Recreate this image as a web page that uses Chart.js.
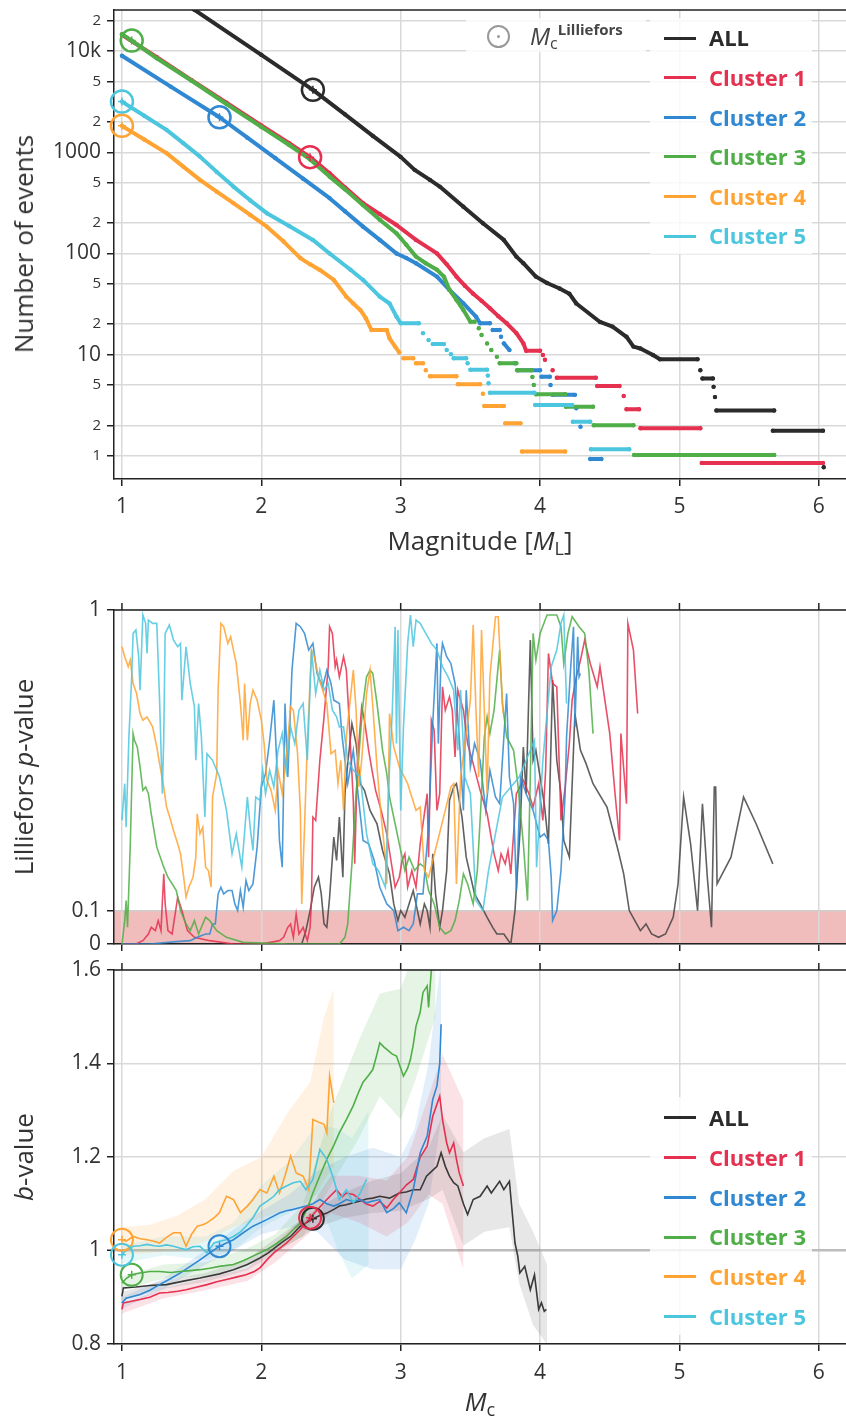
<!DOCTYPE html>
<html>
<head>
<meta charset="utf-8">
<script src="https://cdn.jsdelivr.net/npm/chart.js@4.4.1/dist/chart.umd.min.js"></script>
<style>
  html, body { margin: 0; padding: 0; background: #fff; }
  #page { position: relative; width: 846px; height: 1421px; overflow: hidden;
          font-family: 'Open Sans', 'Noto Sans', sans-serif; color: #333; }
  canvas { position: absolute; left: 0; }
  .ttl { position: absolute; transform: translate(-50%, -50%); font-size: 26px; line-height: 1; white-space: nowrap; }
  .ttl.rot { transform: translate(-50%, -50%) rotate(-90deg); }
  .ttl sub { font-size: 0.7em; position: relative; top: 0.3em; vertical-align: baseline; line-height: 0; }
  .box { position: absolute; background: rgba(255, 255, 255, 0.8); }
  .sw { position: absolute; width: 32px; height: 3px; }
  .lab { position: absolute; font-size: 22px; font-weight: 700; line-height: 28px; white-space: nowrap; }
</style>
</head>
<body>
<div id="page">
  <canvas id="fmd" width="846" height="560" style="top:0"></canvas>
  <canvas id="pval" width="846" height="430" style="top:560px"></canvas>
  <canvas id="bval" width="846" height="466" style="top:955px"></canvas>

  <div class="ttl rot" style="left:23px;top:244px">Number of events</div>
  <div class="ttl" style="left:480px;top:540px">Magnitude [<i>M</i><sub>L</sub>]</div>
  <div class="ttl rot" style="left:23px;top:777px">Lilliefors <i>p</i>-value</div>
  <div class="ttl rot" style="left:23px;top:1157px"><i>b</i>-value</div>
  <div class="ttl" style="left:480px;top:1401px"><i>M</i><sub>c</sub></div>

  <div class="box" style="left:466px;top:18px;width:180px;height:34px"></div>
  <div class="box" style="left:650px;top:18px;width:162px;height:236px"></div>
  <div class="box" style="left:650px;top:1097px;width:162px;height:238px"></div>

  <div style="position:absolute;left:487px;top:24.5px;width:23px;height:23px;box-sizing:border-box;border:2.5px solid #999;border-radius:50%"></div>
  <div style="position:absolute;left:497px;top:34.5px;width:3px;height:3px;background:#999;border-radius:50%"></div>
  <div style="position:absolute;left:530px;top:23.5px;font-size:24px;line-height:24px;white-space:nowrap;color:#444">
    <i>M</i><span style="font-size:16px;position:relative;top:4px">c</span><span style="font-size:15px;font-weight:700;position:relative;top:-10px">Lilliefors</span>
  </div>
  <div id="legends"></div>
</div>

<script>
// ---------------- data ----------------
const seriesNames = ['ALL', 'Cluster 1', 'Cluster 2', 'Cluster 3', 'Cluster 4', 'Cluster 5'];
const xTicks = [1, 2, 3, 4, 5, 6];

const countTicks = [1, 2, 5, 10, 20, 50, 100, 200, 500, 1000, 2000, 5000, 10000, 20000];
const countTickLabels = ['1', '2', '5', '10', '2', '5', '100', '2', '5', '1000', '2', '5', '10k', '2'];
const pTicks = [0, 0.1, 1];
const pTickLabels = ['0', '0.1', '1'];
const pThreshold = 0.1;
const bTicks = [0.8, 1, 1.2, 1.4, 1.6];
const bTickLabels = ['0.8', '1', '1.2', '1.4', '1.6'];

// Mc from Lilliefors test, per series
const mcValues = [2.37, 2.35, 1.70, 1.07, 1.00, 1.00];
const mcCounts = [4140, 895, 2220, 12700, 1825, 3170];
const mcBValues = [1.068, 1.070, 1.009, 0.948, 1.023, 0.991];

// cumulative frequency-magnitude, [magnitude, number]; null breaks the line
const fmdAll = [[1.0,78000],[1.52,25600],[2.0,9200],[2.37,4140],[2.6,2370],[2.8,1450],[3.0,900],[3.1,670],[3.21,533],[3.28,458],[3.45,290],[3.59,199],[3.74,136],[3.83,93],[3.88,80],[3.97,59],[4.05,51],[4.14,45],[4.21,40],[4.26,32],[4.43,21],[4.52,18.9],[4.62,15],[4.67,12],[4.72,11.5],[4.81,9.9],[4.86,9.0],[5.13,9.0],null,[5.15,7.0],null,[5.165,5.8],[5.24,5.8],null,[5.245,4.8],null,[5.255,3.8],null,[5.265,2.8],[5.68,2.8],null,[5.67,1.77],[6.03,1.77],null,[6.035,0.77]];
const fmdC1 = [[1.0,14500],[1.25,8700],[1.5,5170],[1.75,3100],[2.0,1840],[2.2,1230],[2.35,895],[2.49,621],[2.6,450],[2.73,314],[2.85,245],[2.97,191],[3.11,136],[3.26,100],[3.33,78],[3.40,59],[3.46,48],[3.52,40],[3.58,34],[3.64,28.7],[3.70,24],[3.76,20.4],[3.83,16.3],[3.88,12.9],[3.90,10.9],[4.0,10.9],null,[4.02,9.9],null,[4.035,8.9],null,[4.09,7.0],null,[4.12,5.9],[4.40,5.9],null,[4.41,4.9],[4.57,4.9],null,[4.60,3.9],null,[4.62,2.88],[4.71,2.88],null,[4.72,1.87],[5.15,1.87],null,[5.16,0.85],[6.03,0.85]];
const fmdC2 = [[1.0,8990],[1.35,4460],[1.70,2220],[1.9,1394],[2.1,877],[2.3,548],[2.49,352],[2.6,261],[2.73,184],[2.85,136],[2.97,100],[3.04,90],[3.11,80],[3.26,59],[3.35,43.6],[3.45,32],[3.54,23.7],[3.57,20.4],[3.64,20.4],null,[3.66,17.5],[3.71,17.5],null,[3.72,15],null,[3.74,12.9],[3.78,11.1],null,[3.82,8.2],null,[3.84,7.0],[4.0,7.0],null,[4.01,6.05],[4.07,6.05],null,[4.075,5.0],null,[4.09,4.0],[4.25,4.0],null,[4.26,2.94],null,[4.29,1.94],null,[4.36,0.93],[4.44,0.93]];
const fmdC3 = [[1.0,14700],[1.07,12700],[1.25,8500],[1.5,5100],[1.75,3000],[2.0,1780],[2.2,1180],[2.35,850],[2.49,575],[2.6,430],[2.73,300],[2.85,215],[2.97,158],[3.04,122],[3.11,93],[3.18,80],[3.26,69],[3.31,59],[3.35,43.6],[3.40,34.7],[3.45,27.6],[3.50,21.1],[3.53,21.1],null,[3.56,18.2],null,[3.58,15.6],null,[3.62,12.9],null,[3.65,11.1],null,[3.69,9.5],null,[3.71,8.2],[3.83,8.2],null,[3.835,7.0],[3.94,7.0],null,[3.945,6.0],null,[3.955,5.0],null,[3.97,4.05],[4.18,4.05],null,[4.185,3.05],[4.38,3.05],null,[4.385,2.0],[4.67,2.0],null,[4.675,1.02],[5.68,1.02]];
const fmdC4 = [[1.0,1825],[1.16,1336],[1.32,980],[1.44,722],[1.56,533],[1.68,408],[1.80,314],[1.92,240],[2.04,184],[2.16,131],[2.28,90],[2.35,78],[2.42,68.7],[2.52,54.7],[2.61,37.4],[2.66,32],[2.71,27.6],[2.75,22.9],[2.79,17.5],[2.90,17.5],[2.92,14.5],[2.96,12],[2.99,10.5],null,[3.02,9.2],[3.09,9.2],null,[3.11,8.2],[3.16,8.2],null,[3.18,7.0],null,[3.21,6.1],[3.40,6.1],null,[3.41,5.1],[3.57,5.1],null,[3.59,4.1],null,[3.60,3.1],[3.74,3.1],null,[3.75,2.09],[3.86,2.09],null,[3.87,1.1],[4.18,1.1]];
const fmdC5 = [[1.0,3170],[1.16,2300],[1.32,1667],[1.44,1230],[1.56,906],[1.68,640],[1.80,458],[1.92,335],[2.04,250],[2.2,187],[2.37,136],[2.49,100],[2.64,69],[2.73,54.7],[2.85,37.4],[2.92,32],[2.97,23.7],[3.0,20.4],[3.13,20.4],null,[3.16,16.3],null,[3.20,13.9],null,[3.23,12.7],[3.31,12.7],null,[3.33,11.1],null,[3.36,10.1],null,[3.38,9.2],[3.47,9.2],null,[3.48,8.2],null,[3.50,7.1],[3.62,7.1],null,[3.625,6.2],null,[3.63,5.2],null,[3.64,4.2],[3.96,4.2],null,[3.965,3.17],[4.23,3.17],null,[4.235,2.17],[4.36,2.17],null,[4.365,1.16],[4.64,1.16]];

// Lilliefors p-value vs cut-off magnitude, [Mc, p]
const pvAll = [[2.29,0],[2.32,0.04],[2.35,0.10],[2.38,0.17],[2.41,0.20],[2.43,0.15],[2.45,0.06],[2.47,0.05],[2.49,0.14],[2.52,0.32],[2.54,0.25],[2.56,0.38],[2.585,0.20],[2.60,0.45],[2.62,0.54],[2.65,0.66],[2.68,0.60],[2.71,0.48],[2.74,0.46],[2.78,0.40],[2.83,0.36],[2.87,0.28],[2.92,0.21],[2.95,0.12],[2.98,0.07],[3.00,0.10],[3.03,0.08],[3.06,0.12],[3.09,0.16],[3.12,0.10],[3.14,0.06],[3.17,0.12],[3.19,0.10],[3.21,0.05],[3.23,0.27],[3.25,0.15],[3.28,0.05],[3.30,0.10],[3.33,0.22],[3.35,0.43],[3.38,0.47],[3.40,0.48],[3.44,0.38],[3.47,0.26],[3.53,0.15],[3.57,0.12],[3.62,0.08],[3.66,0.05],[3.69,0.03],[3.74,0.03],[3.79,0.0],[3.82,0.10],[3.855,0.33],[3.88,0.59],[3.90,0.45],[3.93,0.91],[3.95,0.55],[3.97,0.58],[4.00,0.50],[4.03,0.42],[4.06,0.30],[4.09,0.79],[4.12,0.55],[4.15,0.45],[4.17,0.31],[4.21,0.26],[4.25,0.69],[4.29,0.58],[4.33,0.54],[4.38,0.48],[4.48,0.41],[4.56,0.28],[4.60,0.21],[4.64,0.10],[4.68,0.07],[4.72,0.04],[4.76,0.06],[4.80,0.03],[4.85,0.02],[4.90,0.03],[4.955,0.08],[4.99,0.18],[5.03,0.44],[5.08,0.30],[5.13,0.10],[5.15,0.28],[5.165,0.42],[5.20,0.20],[5.23,0.05],[5.25,0.47],[5.26,0.47],[5.27,0.18],[5.37,0.26],[5.46,0.44],[5.55,0.36],[5.67,0.24]];
const pvC1 = [[1.00,0],[1.10,0],[1.15,0.01],[1.19,0.03],[1.21,0.05],[1.24,0.04],[1.26,0.07],[1.28,0.04],[1.30,0.21],[1.31,0.12],[1.33,0.04],[1.36,0.03],[1.40,0.14],[1.43,0.10],[1.47,0.04],[1.52,0.02],[1.63,0.01],[1.8,0.0],[2.0,0.0],[2.13,0.01],[2.16,0.02],[2.19,0.05],[2.21,0.06],[2.23,0.02],[2.25,0.09],[2.27,0.03],[2.30,0.05],[2.33,0.01],[2.35,0.05],[2.36,0.13],[2.37,0.38],[2.39,0.37],[2.42,0.55],[2.45,0.68],[2.48,0.83],[2.49,0.95],[2.51,0.93],[2.53,0.83],[2.54,0.85],[2.56,0.80],[2.59,0.86],[2.61,0.82],[2.63,0.67],[2.66,0.43],[2.67,0.24],[2.69,0.55],[2.72,0.71],[2.74,0.67],[2.77,0.58],[2.79,0.53],[2.82,0.46],[2.86,0.40],[2.90,0.33],[2.93,0.25],[2.96,0.17],[2.99,0.20],[3.01,0.25],[3.03,0.27],[3.05,0.17],[3.08,0.22],[3.11,0.17],[3.14,0.30],[3.19,0.45],[3.20,0.26],[3.22,0.67],[3.24,0.64],[3.26,0.40],[3.28,0.45],[3.30,0.77],[3.32,0.70],[3.35,0.74],[3.37,0.70],[3.39,0.56],[3.41,0.76],[3.45,0.70],[3.48,0.60],[3.52,0.54],[3.57,0.46],[3.62,0.39],[3.67,0.27],[3.70,0.22],[3.72,0.27],[3.75,0.24],[3.77,0.28],[3.79,0.21],[3.83,0.45],[3.88,0.49],[3.92,0.45],[3.95,0.41],[3.99,0.48],[4.02,0.37],[4.04,0.52],[4.06,0.87],[4.09,0.78],[4.12,0.77],[4.15,0.37],[4.18,0.47],[4.21,0.60],[4.23,0.73],[4.26,0.80],[4.29,0.85],[4.32,0.91],[4.36,0.84],[4.41,0.77],[4.43,0.83],[4.50,0.63],[4.54,0.44],[4.57,0.31],[4.58,0.63],[4.62,0.42],[4.63,0.96],[4.67,0.88],[4.70,0.69]];
const pvC2 = [[1.00,0.0],[1.20,0.0],[1.39,0.007],[1.49,0.01],[1.54,0.02],[1.60,0.03],[1.63,0.03],[1.65,0.06],[1.67,0.06],[1.69,0.15],[1.71,0.17],[1.73,0.15],[1.76,0.16],[1.79,0.16],[1.81,0.12],[1.83,0.10],[1.85,0.16],[1.87,0.11],[1.89,0.19],[1.91,0.16],[1.94,0.18],[1.97,0.29],[2.00,0.47],[2.03,0.51],[2.06,0.61],[2.09,0.73],[2.11,0.55],[2.13,0.31],[2.15,0.23],[2.17,0.72],[2.19,0.50],[2.22,0.82],[2.25,0.96],[2.28,0.95],[2.31,0.93],[2.34,0.88],[2.37,0.90],[2.40,0.81],[2.44,0.77],[2.47,0.82],[2.50,0.78],[2.52,0.73],[2.56,0.72],[2.58,0.62],[2.62,0.48],[2.66,0.58],[2.73,0.31],[2.77,0.30],[2.81,0.25],[2.85,0.17],[2.90,0.12],[2.95,0.10],[2.98,0.04],[3.02,0.05],[3.06,0.04],[3.09,0.06],[3.12,0.15],[3.16,0.15],[3.20,0.35],[3.23,0.66],[3.26,0.90],[3.27,0.60],[3.29,0.86],[3.30,0.90],[3.33,0.86],[3.36,0.84],[3.39,0.78],[3.42,0.62],[3.45,0.40],[3.47,0.76],[3.50,0.53],[3.53,0.60],[3.57,0.55],[3.61,0.40],[3.64,0.52],[3.68,0.44],[3.71,0.42],[3.76,0.75],[3.78,0.50],[3.81,0.42],[3.83,0.16],[3.86,0.50],[3.90,0.45],[3.95,0.40],[4.00,0.32],[4.03,0.33],[4.06,0.31],[4.08,0.20],[4.09,0.07],[4.12,0.10],[4.15,0.22],[4.18,0.45],[4.19,0.62],[4.22,0.83],[4.24,0.95],[4.25,0.65],[4.27,0.92],[4.28,0.80],[4.29,0.81]];
const pvC3 = [[1.00,0],[1.02,0.07],[1.03,0.13],[1.04,0.05],[1.06,0.30],[1.08,0.63],[1.09,0.61],[1.11,0.59],[1.13,0.53],[1.15,0.46],[1.17,0.47],[1.19,0.45],[1.21,0.39],[1.25,0.29],[1.30,0.23],[1.33,0.20],[1.39,0.16],[1.42,0.10],[1.46,0.06],[1.49,0.04],[1.52,0.07],[1.55,0.03],[1.60,0.08],[1.63,0.07],[1.68,0.04],[1.75,0.02],[1.87,0.005],[2.2,0.0],[2.56,0.0],[2.60,0.02],[2.62,0.06],[2.65,0.24],[2.68,0.45],[2.71,0.62],[2.73,0.72],[2.755,0.80],[2.78,0.82],[2.80,0.81],[2.83,0.72],[2.87,0.58],[2.90,0.51],[2.92,0.44],[2.96,0.36],[2.99,0.30],[3.03,0.22],[3.06,0.26],[3.10,0.22],[3.14,0.24],[3.17,0.23],[3.20,0.16],[3.24,0.12],[3.28,0.05],[3.32,0.03],[3.36,0.04],[3.39,0.07],[3.42,0.13],[3.45,0.21],[3.48,0.18],[3.52,0.12],[3.55,0.22],[3.58,0.45],[3.60,0.62],[3.62,0.68],[3.64,0.63],[3.67,0.70],[3.71,0.88],[3.73,0.72],[3.76,0.62],[3.81,0.58],[3.84,0.48],[3.88,0.30],[3.91,0.13],[3.93,0.50],[3.95,0.93],[3.97,0.85],[4.00,0.93],[4.05,0.985],[4.12,0.985],[4.15,0.95],[4.17,0.84],[4.20,0.93],[4.23,0.98],[4.28,0.95],[4.32,0.93],[4.35,0.82],[4.38,0.63]];
const pvC4 = [[1.00,0.89],[1.02,0.86],[1.045,0.83],[1.06,0.85],[1.08,0.78],[1.105,0.75],[1.13,0.69],[1.15,0.67],[1.18,0.68],[1.22,0.65],[1.25,0.59],[1.27,0.54],[1.30,0.47],[1.32,0.41],[1.35,0.37],[1.37,0.34],[1.40,0.30],[1.42,0.27],[1.44,0.21],[1.46,0.14],[1.48,0.17],[1.51,0.20],[1.53,0.26],[1.54,0.39],[1.56,0.33],[1.58,0.35],[1.60,0.23],[1.62,0.22],[1.64,0.17],[1.65,0.44],[1.68,0.51],[1.69,0.76],[1.71,0.96],[1.73,0.95],[1.76,0.90],[1.78,0.92],[1.80,0.88],[1.82,0.84],[1.85,0.72],[1.87,0.61],[1.88,0.78],[1.90,0.61],[1.92,0.72],[1.94,0.76],[1.97,0.73],[2.00,0.67],[2.02,0.60],[2.04,0.49],[2.07,0.46],[2.10,0.40],[2.12,0.52],[2.15,0.45],[2.18,0.56],[2.21,0.71],[2.23,0.70],[2.26,0.57],[2.28,0.40],[2.29,0.12],[2.31,0.35],[2.33,0.60],[2.36,0.88],[2.38,0.86],[2.41,0.80],[2.44,0.76],[2.47,0.72],[2.50,0.57],[2.53,0.58],[2.55,0.48],[2.57,0.55],[2.59,0.40],[2.61,0.62],[2.66,0.82],[2.68,0.70],[2.70,0.47],[2.72,0.55],[2.755,0.75],[2.78,0.82],[2.80,0.71],[2.83,0.53],[2.86,0.38],[2.89,0.26],[2.90,0.18],[2.92,0.69],[2.95,0.59],[2.99,0.53],[3.05,0.48],[3.11,0.40],[3.14,0.41],[3.17,0.22],[3.20,0.20],[3.26,0.30],[3.32,0.40],[3.36,0.47],[3.38,0.48],[3.40,0.18],[3.43,0.50],[3.47,0.63],[3.50,0.73],[3.52,0.955],[3.54,0.70],[3.56,0.50],[3.58,0.94],[3.60,0.70],[3.62,0.45],[3.64,0.80],[3.68,0.98],[3.70,0.98],[3.72,0.80],[3.735,0.69]];
const pvC5 = [[1.00,0.37],[1.02,0.48],[1.03,0.35],[1.05,0.62],[1.07,0.80],[1.08,0.93],[1.10,0.94],[1.12,0.86],[1.13,0.76],[1.15,0.985],[1.17,0.96],[1.18,0.87],[1.19,0.97],[1.22,0.96],[1.25,0.96],[1.27,0.73],[1.29,0.45],[1.30,0.62],[1.31,0.93],[1.34,0.955],[1.37,0.91],[1.40,0.89],[1.42,0.90],[1.43,0.73],[1.46,0.89],[1.49,0.78],[1.52,0.71],[1.53,0.55],[1.55,0.72],[1.57,0.62],[1.595,0.38],[1.61,0.57],[1.65,0.55],[1.70,0.50],[1.75,0.40],[1.79,0.27],[1.82,0.33],[1.86,0.23],[1.90,0.44],[1.92,0.35],[1.94,0.28],[1.96,0.44],[1.99,0.43],[2.01,0.52],[2.03,0.45],[2.06,0.52],[2.09,0.47],[2.12,0.58],[2.15,0.63],[2.18,0.52],[2.21,0.65],[2.24,0.60],[2.27,0.70],[2.30,0.72],[2.33,0.55],[2.36,0.88],[2.39,0.75],[2.42,0.82],[2.45,0.76],[2.48,0.78],[2.51,0.70],[2.54,0.68],[2.56,0.65],[2.59,0.65],[2.62,0.55],[2.66,0.52],[2.71,0.50],[2.755,0.33],[2.80,0.24],[2.84,0.22],[2.89,0.17],[2.92,0.53],[2.94,0.70],[2.96,0.95],[2.97,0.60],[2.98,0.94],[3.00,0.40],[3.02,0.65],[3.05,0.90],[3.07,0.985],[3.09,0.89],[3.11,0.97],[3.14,0.96],[3.18,0.93],[3.22,0.90],[3.26,0.88],[3.30,0.83],[3.34,0.80],[3.38,0.76],[3.41,0.58],[3.43,0.76],[3.46,0.50],[3.50,0.45],[3.54,0.13],[3.59,0.10],[3.63,0.22],[3.73,0.44],[3.85,0.50],[3.96,0.61],[3.975,0.23],[4.02,0.55],[4.08,0.83],[4.12,0.88],[4.15,0.96],[4.17,0.985],[4.19,0.72]];

// b-value vs Mc, [Mc, b]
const bAll = [[1.0,0.902],[1.01,0.92],[1.1,0.922],[1.2,0.925],[1.32,0.927],[1.45,0.935],[1.56,0.941],[1.70,0.95],[1.80,0.959],[1.90,0.97],[1.99,0.984],[2.05,0.995],[2.11,1.009],[2.16,1.02],[2.21,1.03],[2.28,1.052],[2.37,1.068],[2.42,1.075],[2.47,1.08],[2.52,1.088],[2.56,1.095],[2.61,1.098],[2.66,1.102],[2.71,1.106],[2.755,1.11],[2.80,1.112],[2.85,1.116],[2.92,1.112],[2.99,1.123],[3.04,1.125],[3.09,1.13],[3.14,1.13],[3.185,1.159],[3.21,1.166],[3.26,1.18],[3.29,1.209],[3.32,1.18],[3.35,1.159],[3.38,1.145],[3.41,1.138],[3.45,1.10],[3.48,1.077],[3.52,1.109],[3.57,1.116],[3.62,1.138],[3.65,1.123],[3.71,1.148],[3.74,1.13],[3.78,1.148],[3.82,1.016],[3.84,0.988],[3.855,0.952],[3.89,0.966],[3.93,0.916],[3.96,0.948],[3.99,0.874],[4.01,0.888],[4.03,0.87],[4.045,0.874]];
const bC1 = [[1.0,0.874],[1.01,0.888],[1.13,0.895],[1.20,0.90],[1.27,0.909],[1.33,0.91],[1.40,0.913],[1.46,0.916],[1.54,0.922],[1.61,0.927],[1.68,0.933],[1.75,0.938],[1.82,0.943],[1.89,0.948],[1.95,0.955],[1.99,0.963],[2.04,0.98],[2.09,0.995],[2.18,1.016],[2.23,1.03],[2.28,1.045],[2.35,1.07],[2.41,1.09],[2.47,1.109],[2.54,1.13],[2.58,1.115],[2.61,1.123],[2.66,1.12],[2.71,1.109],[2.75,1.10],[2.80,1.095],[2.85,1.105],[2.90,1.091],[2.95,1.11],[2.99,1.123],[3.04,1.14],[3.09,1.152],[3.14,1.20],[3.19,1.223],[3.23,1.287],[3.28,1.33],[3.30,1.28],[3.33,1.23],[3.35,1.209],[3.38,1.23],[3.40,1.195],[3.42,1.166],[3.45,1.138]];
const bC2 = [[1.0,0.888],[1.03,0.898],[1.13,0.906],[1.20,0.915],[1.27,0.927],[1.35,0.94],[1.42,0.952],[1.49,0.966],[1.56,0.98],[1.63,0.995],[1.70,1.009],[1.75,1.016],[1.80,1.023],[1.87,1.038],[1.94,1.052],[2.04,1.066],[2.13,1.08],[2.18,1.085],[2.23,1.088],[2.32,1.095],[2.37,1.10],[2.42,1.109],[2.47,1.10],[2.52,1.095],[2.56,1.10],[2.61,1.109],[2.66,1.105],[2.71,1.109],[2.755,1.102],[2.80,1.106],[2.85,1.109],[2.90,1.081],[2.95,1.09],[2.99,1.102],[3.04,1.081],[3.09,1.13],[3.14,1.209],[3.19,1.245],[3.23,1.323],[3.26,1.352],[3.28,1.40],[3.29,1.484]];
const bC3 = [[1.0,0.93],[1.03,0.94],[1.07,0.948],[1.13,0.952],[1.20,0.955],[1.27,0.955],[1.35,0.953],[1.42,0.955],[1.49,0.957],[1.56,0.959],[1.63,0.962],[1.70,0.966],[1.80,0.97],[1.87,0.978],[1.94,0.988],[2.04,1.002],[2.11,1.015],[2.18,1.03],[2.23,1.045],[2.28,1.059],[2.33,1.09],[2.37,1.123],[2.42,1.16],[2.47,1.195],[2.52,1.225],[2.56,1.252],[2.61,1.28],[2.66,1.31],[2.70,1.34],[2.73,1.36],[2.77,1.375],[2.80,1.387],[2.83,1.42],[2.85,1.444],[2.88,1.435],[2.90,1.43],[2.94,1.42],[2.97,1.416],[3.00,1.39],[3.02,1.373],[3.05,1.39],[3.07,1.409],[3.09,1.44],[3.11,1.48],[3.14,1.51],[3.16,1.552],[3.19,1.566],[3.20,1.52],[3.22,1.60],[3.25,1.65]];
const bC4 = [[1.0,1.023],[1.03,1.02],[1.08,1.03],[1.13,1.025],[1.18,1.023],[1.23,1.02],[1.27,1.016],[1.32,1.028],[1.37,1.038],[1.42,1.038],[1.46,1.009],[1.50,1.035],[1.54,1.052],[1.58,1.055],[1.61,1.059],[1.66,1.07],[1.70,1.081],[1.75,1.116],[1.80,1.109],[1.85,1.081],[1.90,1.095],[1.94,1.109],[1.99,1.13],[2.04,1.123],[2.09,1.159],[2.13,1.123],[2.17,1.16],[2.21,1.202],[2.25,1.166],[2.30,1.159],[2.34,1.13],[2.37,1.28],[2.42,1.273],[2.45,1.27],[2.47,1.252],[2.49,1.373],[2.52,1.316]];
const bC5 = [[1.0,0.991],[1.03,1.0],[1.08,1.009],[1.13,1.01],[1.18,1.013],[1.23,1.01],[1.27,1.009],[1.32,1.012],[1.37,1.009],[1.42,1.005],[1.46,1.002],[1.51,1.008],[1.56,1.009],[1.61,0.995],[1.66,1.016],[1.70,1.02],[1.75,1.023],[1.80,1.03],[1.85,1.04],[1.89,1.052],[1.94,1.07],[1.99,1.095],[2.04,1.105],[2.09,1.116],[2.13,1.13],[2.18,1.138],[2.23,1.145],[2.28,1.148],[2.32,1.13],[2.37,1.152],[2.42,1.216],[2.47,1.195],[2.52,1.152],[2.56,1.109],[2.61,1.13],[2.66,1.102],[2.71,1.123],[2.755,1.152]];

// b-value uncertainty band, [Mc, low, high]
const bandAll = [[1.0,0.893,0.912],[1.3,0.918,0.936],[1.6,0.933,0.952],[1.9,0.958,0.982],[2.2,1.013,1.047],[2.4,1.05,1.09],[2.6,1.07,1.125],[2.8,1.08,1.15],[3.0,1.085,1.165],[3.2,1.11,1.22],[3.3,1.13,1.29],[3.45,1.01,1.21],[3.6,1.04,1.24],[3.78,1.05,1.26],[3.85,0.93,1.10],[3.95,0.84,1.04],[4.05,0.80,0.97]];
const bandC1 = [[1.0,0.865,0.885],[1.3,0.898,0.92],[1.6,0.915,0.94],[1.9,0.935,0.962],[2.1,0.975,1.015],[2.3,1.025,1.07],[2.5,1.08,1.16],[2.7,1.06,1.16],[2.9,1.03,1.15],[3.05,1.06,1.2],[3.2,1.12,1.33],[3.3,1.1,1.42],[3.45,0.96,1.32]];
const bandC2 = [[1.0,0.875,0.90],[1.3,0.918,0.94],[1.6,0.97,1.0],[1.8,1.0,1.045],[2.0,1.035,1.085],[2.2,1.05,1.12],[2.4,1.04,1.17],[2.6,0.98,1.2],[2.8,0.96,1.22],[3.0,0.96,1.2],[3.1,1.02,1.26],[3.2,1.1,1.4],[3.29,1.28,1.62]];
const bandC3 = [[1.0,0.915,0.945],[1.3,0.94,0.97],[1.6,0.945,0.975],[1.9,0.97,1.005],[2.1,1.0,1.035],[2.3,1.03,1.1],[2.5,1.14,1.3],[2.7,1.24,1.45],[2.85,1.33,1.55],[3.0,1.28,1.56],[3.1,1.36,1.64],[3.25,1.5,1.78]];
const bandC4 = [[1.0,0.99,1.05],[1.2,0.995,1.055],[1.4,1.0,1.075],[1.6,1.02,1.11],[1.8,1.05,1.17],[2.0,1.07,1.2],[2.2,1.09,1.3],[2.35,1.1,1.36],[2.45,1.15,1.5],[2.52,1.18,1.56]];
const bandC5 = [[1.0,0.972,1.01],[1.3,0.99,1.03],[1.6,0.98,1.03],[1.8,1.0,1.06],[2.0,1.05,1.14],[2.2,1.08,1.19],[2.4,1.12,1.27],[2.55,1.0,1.26],[2.65,0.94,1.24],[2.77,0.97,1.3]];

const fmdData = [fmdAll, fmdC1, fmdC2, fmdC3, fmdC4, fmdC5];
const pvData = [pvAll, pvC1, pvC2, pvC3, pvC4, pvC5];
const bData = [bAll, bC1, bC2, bC3, bC4, bC5];
const bBands = [bandAll, bandC1, bandC2, bandC3, bandC4, bandC5];

// ---------------- styling ----------------
const seriesColors = ['#2b2b2b', '#e5304f', '#2f88d1', '#4fae47', '#ffa333', '#4cc6de'];
const AXIS = '#222';
const GRID = '#d9d9d9';

Chart.defaults.font.family = "'Open Sans', 'Noto Sans', sans-serif";
Chart.defaults.color = '#333';

function rgba(hex, a) {
  const n = parseInt(hex.slice(1), 16);
  return `rgba(${n >> 16}, ${(n >> 8) & 255}, ${n & 255}, ${a})`;
}

// null in a row list means "break the line here"
function toXY(rows, col) {
  const out = [];
  let lastX = 0;
  rows.forEach(r => {
    if (r === null) out.push({ x: lastX, y: null });
    else { out.push({ x: r[0], y: r[col || 1] }); lastX = r[0]; }
  });
  return out;
}

function fixedTicks(values) {
  return s => { s.ticks = values.map(v => ({ value: v })); };
}

function xAxis(showLabels, height, pad) {
  return {
    type: 'linear', min: 0.943, max: 6.195,
    afterBuildTicks: fixedTicks(xTicks),
    ticks: { display: showLabels, autoSkip: false, maxRotation: 0, padding: pad,
             font: { size: 21 }, color: '#333', callback: v => String(v) },
    grid: { color: GRID, lineWidth: 1.5, tickColor: AXIS, tickLength: 7, tickWidth: 1.5 },
    border: { color: AXIS, width: 1.5 },
    afterFit: s => { s.height = height; s.paddingLeft = 0; s.paddingRight = 0; }
  };
}

function yAxis(opts) {
  return Object.assign({
    ticks: { autoSkip: false, padding: 6, font: { size: 21 }, color: '#333' },
    grid: { color: GRID, lineWidth: 1.5, tickColor: AXIS, tickLength: 7, tickWidth: 1.5 },
    border: { color: AXIS, width: 1.5 },
    afterFit: s => { s.width = 114; s.paddingTop = 0; s.paddingBottom = 0; }
  }, opts);
}

// top frame line, optional top tick marks, optional shaded p < threshold band
const panelDecor = {
  id: 'panelDecor',
  beforeDraw(chart, args, o) {
    if (o.band == null) return;
    const { ctx, chartArea: a, scales: { y } } = chart;
    const top = y.getPixelForValue(o.band);
    const bottom = y.getPixelForValue(0);
    ctx.save();
    ctx.fillStyle = 'rgba(215, 70, 70, 0.36)';
    ctx.fillRect(a.left, top, a.right - a.left, bottom - top);
    ctx.restore();
  },
  afterDraw(chart, args, o) {
    const { ctx, chartArea: a, scales: { x } } = chart;
    ctx.save();
    ctx.strokeStyle = AXIS;
    ctx.lineWidth = 1.5;
    ctx.beginPath();
    ctx.moveTo(a.left - 0.75, a.top);
    ctx.lineTo(a.right, a.top);
    if (o.topTicks) {
      xTicks.forEach(v => {
        const px = x.getPixelForValue(v);
        ctx.moveTo(px, a.top);
        ctx.lineTo(px, a.top - 7);
      });
    }
    ctx.stroke();
    ctx.restore();
  }
};

function baseOptions(padTop, decor, scales) {
  return {
    responsive: false, maintainAspectRatio: false, animation: false, devicePixelRatio: 1,
    events: [],
    layout: { autoPadding: false, padding: { top: padTop, left: 0, right: 0, bottom: 0 } },
    elements: { point: { radius: 0 }, line: { tension: 0 } },
    plugins: { legend: { display: false }, tooltip: { enabled: false }, panelDecor: decor },
    scales
  };
}

function markerSets(yValues, radius, ring) {
  const pts = mcValues.map((m, i) => ({ x: m, y: yValues[i] }));
  return [
    { data: pts, showLine: false, pointStyle: 'circle', pointRadius: radius, pointBorderWidth: ring,
      pointBorderColor: seriesColors, pointBackgroundColor: 'rgba(0,0,0,0)', clip: false, order: 1 },
    { data: pts, showLine: false, pointStyle: 'cross', pointRadius: 4, pointBorderWidth: 1.5,
      pointBorderColor: seriesColors, clip: false, order: 0 }
  ];
}

// ---------------- panel 1: frequency-magnitude ----------------
const fmdSets = fmdData.map((rows, i) => ({
  data: toXY(rows), borderColor: seriesColors[i], backgroundColor: seriesColors[i],
  borderWidth: 4, borderCapStyle: 'round', borderJoinStyle: 'round', spanGaps: false, fill: false,
  pointRadius: 2.2, pointBorderWidth: 0, pointBackgroundColor: seriesColors[i], order: 10 - i
}));

new Chart(document.getElementById('fmd'), {
  type: 'line',
  data: { datasets: fmdSets.concat(markerSets(mcCounts, 11, 2.5)) },
  options: baseOptions(10, { topTicks: false }, {
    x: xAxis(true, 81, 8),
    y: yAxis({
      type: 'logarithmic', min: 0.589, max: 25500,
      afterBuildTicks: fixedTicks(countTicks),
      ticks: {
        autoSkip: false, padding: 6, color: '#333',
        font: ctx => ({ size: countTickLabels[countTicks.indexOf(ctx.tick.value)].length > 1 ? 21 : 15 }),
        callback: v => countTickLabels[countTicks.indexOf(v)]
      }
    })
  }),
  plugins: [panelDecor]
});

// ---------------- panel 2: Lilliefors p-value ----------------
const pvSets = pvData.map((rows, i) => ({
  data: toXY(rows), borderColor: rgba(i === 0 ? '#444444' : seriesColors[i], 0.85),
  borderWidth: 1.6, spanGaps: false, fill: false, order: 10 - i
}));

new Chart(document.getElementById('pval'), {
  type: 'line',
  data: { datasets: pvSets },
  options: baseOptions(50, { topTicks: true, band: pThreshold }, {
    x: xAxis(false, 46, 0),
    y: yAxis({
      type: 'linear', min: 0, max: 1,
      afterBuildTicks: fixedTicks(pTicks),
      ticks: { autoSkip: false, padding: 6, font: { size: 21 }, color: '#333',
               callback: v => pTickLabels[pTicks.indexOf(v)] },
      grid: { color: ctx => ctx.tick && ctx.tick.value === pThreshold ? '#cfcfcf' : GRID,
              lineWidth: 1.5, tickColor: AXIS, tickLength: 7, tickWidth: 1.5 }
    })
  }),
  plugins: [panelDecor]
});

// ---------------- panel 3: b-value ----------------
const bandSets = [];
bBands.forEach((rows, i) => {
  const lowIndex = bandSets.length;
  bandSets.push({ data: toXY(rows, 1), borderWidth: 0, borderColor: 'rgba(0,0,0,0)', fill: false, order: 30 });
  bandSets.push({ data: toXY(rows, 2), borderWidth: 0, borderColor: 'rgba(0,0,0,0)', fill: lowIndex,
                  backgroundColor: rgba(i === 0 ? '#555555' : seriesColors[i], 0.14), order: 30 });
});
const bSets = bData.map((rows, i) => ({
  data: toXY(rows), borderColor: i === 0 ? '#3a3a3a' : seriesColors[i],
  borderWidth: 1.6, spanGaps: false, fill: false, order: 10 - i
}));

new Chart(document.getElementById('bval'), {
  type: 'line',
  data: { datasets: bandSets.concat(bSets, markerSets(mcBValues, 11, 2)) },
  options: baseOptions(15, { topTicks: true }, {
    x: xAxis(true, 77, 9),
    y: yAxis({
      type: 'linear', min: 0.8, max: 1.6,
      afterBuildTicks: fixedTicks(bTicks),
      ticks: { autoSkip: false, padding: 6, font: { size: 21 }, color: '#333',
               callback: v => bTickLabels[bTicks.findIndex(t => Math.abs(t - v) < 1e-9)] },
      grid: { color: ctx => ctx.tick && Math.abs(ctx.tick.value - 1) < 1e-9 ? '#bdbdbd' : GRID,
              lineWidth: ctx => ctx.tick && Math.abs(ctx.tick.value - 1) < 1e-9 ? 2.5 : 1.5,
              tickColor: AXIS, tickLength: 7, tickWidth: 1.5 }
    })
  }),
  plugins: [panelDecor]
});

// ---------------- legends (HTML text) ----------------
function addLegend(firstY, step) {
  const host = document.getElementById('legends');
  seriesNames.forEach((name, i) => {
    const cy = firstY + i * step;
    const sw = document.createElement('div');
    sw.className = 'sw';
    sw.style.left = '664px';
    sw.style.top = (cy - 1.5) + 'px';
    sw.style.background = seriesColors[i];
    const lab = document.createElement('div');
    lab.className = 'lab';
    lab.style.left = '709px';
    lab.style.top = (cy - 14.7) + 'px';
    lab.style.color = seriesColors[i];
    lab.textContent = name;
    host.appendChild(sw);
    host.appendChild(lab);
  });
}
addLegend(38, 39.6);
addLegend(1117.7, 39.8);
</script>
</body>
</html>
